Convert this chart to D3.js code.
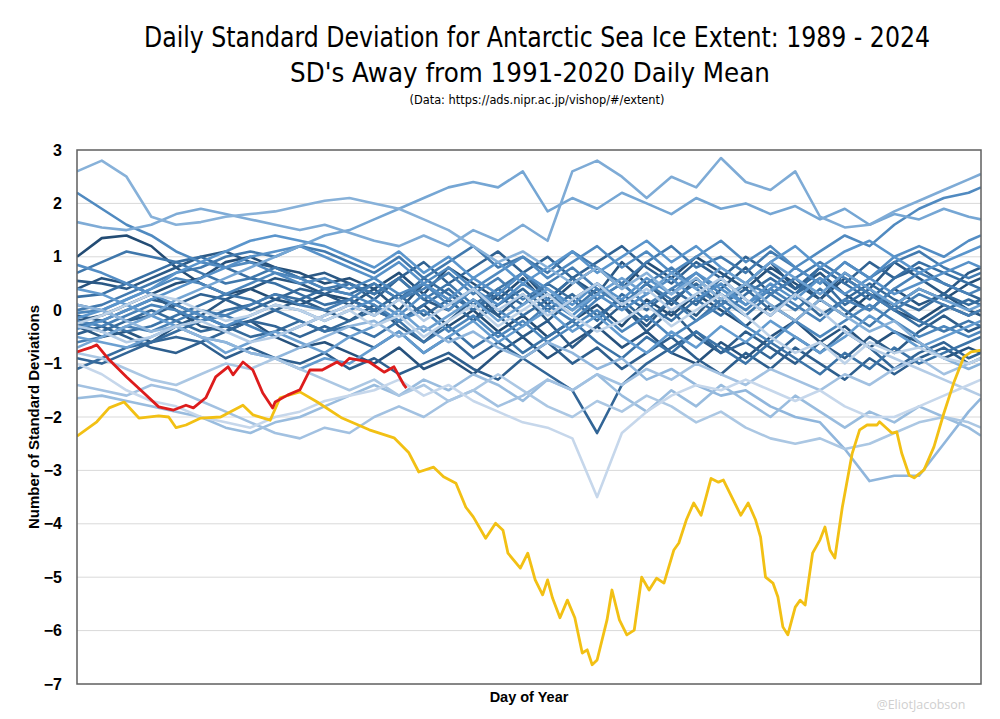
<!DOCTYPE html>
<html>
<head>
<meta charset="utf-8">
<script src="https://cdn.jsdelivr.net/npm/d3@7"></script>
<style>
  html, body { margin: 0; padding: 0; background: #ffffff; }
  svg { display: block; }
</style>
</head>
<body>
<svg id="chart" width="1000" height="719"></svg>
<script>
// ---------- DATA ----------
const titleLines = ["Daily Standard Deviation for Antarctic Sea Ice Extent: 1989 - 2024",
                    "SD's Away from 1991-2020 Daily Mean",
                    "(Data: https://ads.nipr.ac.jp/vishop/#/extent)"];
const yTicks = [-7, -6, -5, -4, -3, -2, -1, 0, 1, 2, 3];
const xLabel = "Day of Year";
const yLabel = "Number of Standard Deviations";
const credit = "@EliotJacobson";

const days = [1,11,21,31,41,51,61,71,81,91,101,111,121,131,141,151,161,171,181,191,201,211,221,231,241,251,261,271,281,291,301,311,321,331,341,351,361,366];

const v1989 = [1.0,1.35,1.4,1.2,0.8,0.5,0.3,0.4,0.2,0.1,0.3,0.2,0.0,-0.2,0.1,-0.3,0.0,-0.4,-0.1,-0.5,-0.2,0.1,-0.3,0.2,-0.1,0.3,0.0,-0.3,0.1,-0.2,0.2,-0.1,0.3,0.0,-0.2,0.1,-0.1,0.0];
const v1990 = [-0.2,-0.1,0.1,0.3,0.5,0.6,0.9,1.0,0.8,0.7,0.5,0.6,0.4,0.7,0.3,0.8,0.5,0.2,0.6,0.1,0.5,0.8,0.4,0.9,0.6,1.0,0.7,0.4,0.8,0.5,0.2,0.6,0.3,0.1,0.4,0.2,0.5,0.6];
const v1991 = [0.4,0.6,0.5,0.3,0.0,-0.3,-0.4,-0.2,-0.5,-0.7,-0.6,-0.8,-1.0,-0.7,-1.1,-0.9,-1.2,-0.8,-0.5,-0.9,-0.6,-0.3,-0.7,-0.4,-0.8,-1.0,-0.6,-0.9,-0.5,-0.2,-0.6,-0.3,-0.7,-0.4,-0.6,-0.9,-0.7,-0.8];
const v1992 = [-0.3,-0.5,-0.4,-0.6,-0.3,-0.1,0.2,0.4,0.6,0.5,0.3,0.1,0.4,0.0,0.5,0.2,-0.2,0.3,0.7,0.2,0.6,0.3,0.9,0.5,0.1,0.6,0.2,0.5,0.9,0.4,0.7,0.3,0.0,0.4,0.1,0.3,0.0,-0.1];
const v1993 = [0.55,0.5,0.4,0.6,0.8,1.0,1.1,0.9,0.8,0.6,0.7,0.5,0.3,0.6,0.2,0.0,0.4,-0.1,0.3,-0.2,0.2,0.5,0.1,-0.3,0.2,-0.1,0.4,0.8,0.3,0.6,0.2,0.7,0.4,0.9,0.6,0.3,0.7,0.8];
const v1994 = [-0.1,-0.2,0.0,0.2,0.1,-0.1,-0.3,-0.2,0.0,0.2,0.0,-0.2,0.1,-0.3,-0.6,-0.2,0.2,-0.1,-0.5,-0.2,-0.7,-0.3,0.1,-0.4,0.0,-0.5,-0.8,-0.4,-0.7,-1.0,-0.6,-0.9,-0.5,-0.8,-0.4,-0.1,-0.4,-0.3];
const v1995 = [-0.45,-0.3,-0.5,-0.7,-0.8,-0.6,-0.9,-0.7,-0.9,-1.0,-0.8,-1.1,-0.9,-1.2,-1.0,-0.8,-1.1,-1.3,-0.9,-0.6,-1.0,-0.7,-1.1,-0.8,-0.5,-0.9,-1.2,-0.8,-1.1,-0.7,-1.0,-1.3,-0.9,-1.2,-0.9,-0.7,-1.0,-0.9];
const v1996 = [0.1,0.0,-0.2,-0.1,0.1,0.3,0.2,0.0,0.2,0.4,0.3,0.5,0.2,0.6,0.9,0.5,0.8,1.1,0.7,1.0,0.6,0.9,1.2,0.8,0.5,0.9,0.6,1.0,0.7,0.4,0.8,0.5,0.9,0.6,0.8,0.5,0.3,0.2];
const v1997 = [-0.9,-1.0,-0.8,-0.6,-0.5,-0.6,-0.4,-0.2,-0.3,-0.5,-0.3,-0.5,-0.7,-0.4,-0.8,-0.5,-0.9,-0.6,-0.9,-1.2,-1.5,-2.3,-1.4,-1.0,-0.7,-0.4,-0.8,-0.6,-0.9,-0.5,-0.8,-0.4,-0.7,-1.1,-0.8,-0.6,-0.9,-0.8];
const v1998 = [-0.25,-0.4,-0.2,0.0,-0.2,-0.4,-0.3,-0.5,-0.4,-0.2,-0.4,-0.2,0.0,0.3,-0.1,0.2,-0.2,0.1,0.4,0.0,0.3,-0.1,0.2,-0.2,0.2,0.5,0.1,0.4,0.0,0.3,-0.1,0.2,0.5,0.2,0.0,0.3,0.1,0.2];
const v1999 = [-1.1,-0.9,-0.7,-0.6,-0.4,-0.2,0.0,0.1,0.3,0.2,0.4,0.3,0.5,0.2,0.6,0.3,0.0,0.4,0.1,0.5,0.2,-0.2,0.3,0.0,0.4,0.1,0.6,0.2,-0.1,0.3,0.6,0.1,0.4,0.0,-0.3,0.0,0.2,0.1];
const v2000 = [0.25,0.3,0.5,0.7,0.9,1.0,0.8,0.6,0.5,0.3,0.1,0.2,0.0,-0.2,0.1,0.4,0.0,0.3,-0.1,0.2,0.6,0.2,0.5,0.1,-0.2,0.2,-0.1,0.3,0.6,0.3,0.8,0.5,0.2,0.6,0.9,0.7,0.5,0.4];
const v2001 = [-0.3,-0.2,-0.4,-0.3,-0.1,0.1,0.3,0.2,0.0,-0.2,-0.4,-0.3,-0.5,-0.2,-0.6,-0.3,-0.7,-0.4,-0.8,-0.5,-0.2,-0.6,-0.9,-0.5,-0.8,-0.4,-0.7,-1.0,-0.6,-0.9,-1.2,-0.8,-1.1,-0.7,-1.0,-0.8,-0.6,-0.5];
const v2002 = [0.7,0.9,1.1,1.0,0.9,0.7,0.5,0.6,0.8,0.6,0.4,0.5,0.3,0.6,0.2,0.5,0.1,0.4,0.7,0.3,0.0,0.4,0.1,0.5,0.2,-0.2,0.2,-0.1,0.3,0.0,0.4,0.0,-0.3,0.1,-0.2,-0.4,-0.2,-0.3];
const v2003 = [0.0,0.1,0.3,0.5,0.7,0.8,1.0,1.1,1.0,1.2,1.1,0.9,0.7,1.0,0.6,0.9,1.2,0.8,1.0,0.7,1.1,0.8,0.5,0.9,1.2,0.8,1.0,0.7,1.1,0.8,0.5,0.9,0.6,0.9,1.1,0.8,0.6,0.7];
const v2004 = [-0.6,-0.5,-0.3,-0.4,-0.2,0.0,-0.1,0.1,0.3,0.1,0.0,0.2,0.5,0.2,0.4,0.7,0.3,0.6,0.2,0.5,0.8,0.4,0.1,0.5,0.8,0.4,0.1,0.5,0.3,0.6,0.9,0.6,0.3,0.0,0.3,0.1,-0.1,0.0];
const v2005 = [-0.2,-0.3,-0.1,0.1,0.0,-0.2,-0.1,-0.3,-0.5,-0.3,-0.1,0.1,-0.1,0.2,0.5,0.1,0.4,0.0,-0.3,0.1,-0.2,0.2,0.5,0.1,0.4,0.7,0.3,0.0,0.4,0.1,-0.2,0.2,0.0,0.4,0.7,0.5,0.3,0.4];
const v2006 = [-0.05,0.0,0.2,0.4,0.6,0.5,0.3,0.5,0.7,0.6,0.4,0.3,0.1,-0.2,0.0,-0.4,-0.1,-0.5,-0.2,-0.6,-0.3,0.0,-0.4,-0.1,-0.5,-0.2,0.1,-0.3,-0.6,-0.2,-0.5,-0.2,0.1,-0.2,-0.5,-0.3,-0.5,-0.4];
const v2007 = [2.2,1.9,1.6,1.4,1.1,0.9,0.8,0.9,0.7,0.5,0.6,0.4,0.6,0.3,0.5,0.8,0.4,0.7,1.0,0.6,0.9,1.2,0.8,1.1,0.7,1.0,1.3,0.9,1.2,0.8,1.1,1.4,1.2,1.6,1.9,2.1,2.2,2.3];
const v2008 = [0.85,0.7,0.5,0.3,0.1,-0.1,-0.3,-0.1,0.1,0.0,-0.2,0.0,0.2,-0.1,0.3,0.0,0.4,0.1,0.5,0.2,-0.1,0.3,0.0,0.3,0.6,0.2,0.5,0.1,0.4,0.8,0.5,0.9,0.6,1.0,1.2,1.0,1.3,1.4];
const v2009 = [-0.35,-0.2,0.0,0.2,0.4,0.6,0.8,1.0,1.1,1.2,1.0,0.8,0.6,0.9,0.5,0.2,0.6,0.3,0.7,0.4,0.1,0.5,0.2,0.6,0.3,0.7,0.4,0.1,0.5,0.2,0.6,0.3,0.6,0.3,0.5,0.7,0.9,0.8];
const v2010 = [-0.15,0.0,0.2,0.4,0.7,0.9,1.1,1.3,1.4,1.3,1.2,1.0,0.8,1.1,0.7,1.0,0.6,0.9,0.5,0.8,1.1,0.7,1.0,1.3,0.9,1.2,0.8,0.5,0.9,1.2,0.8,1.1,1.3,1.0,0.7,0.9,1.1,1.2];
const v2011 = [0.4,0.3,0.1,-0.1,-0.3,-0.5,-0.6,-0.8,-0.9,-1.1,-0.9,-1.0,-0.7,-0.4,-0.8,-0.5,-0.2,-0.6,-0.3,0.0,-0.4,-0.1,-0.5,-0.8,-0.4,-0.7,-0.3,-0.6,-0.2,-0.5,-0.8,-0.5,-0.1,-0.4,-0.7,-0.5,-0.3,-0.2];
const v2012 = [-0.5,-0.6,-0.7,-0.5,-0.3,-0.5,-0.8,-0.6,-0.4,-0.6,-0.8,-0.5,-0.3,0.0,-0.4,-0.1,0.2,-0.2,0.1,0.4,0.0,0.3,0.6,0.3,0.7,0.4,0.8,0.5,0.9,0.6,0.3,0.7,0.4,0.1,0.4,0.2,0.0,0.1];
const v2013 = [-0.7,-0.5,-0.3,-0.1,0.2,0.4,0.6,0.8,1.0,1.2,1.4,1.5,1.7,1.9,2.1,2.3,2.4,2.3,2.6,1.85,2.1,1.9,2.2,2.0,1.8,2.1,1.9,2.0,1.8,1.95,1.7,1.9,1.6,1.8,1.7,1.9,1.75,1.7];
const v2014 = [1.65,1.55,1.5,1.6,1.8,1.9,1.8,1.7,1.6,1.5,1.6,1.45,1.3,1.2,1.4,1.2,1.5,1.3,1.6,1.3,2.6,2.8,2.5,2.1,2.5,2.3,2.85,2.4,2.25,2.6,1.75,1.55,1.6,1.85,2.05,2.25,2.45,2.55];
const v2015 = [2.6,2.8,2.5,1.75,1.6,1.65,1.75,1.8,1.85,1.95,2.05,2.1,2.0,1.9,1.7,1.5,1.2,0.9,1.1,0.8,0.5,0.8,0.4,0.7,0.3,0.6,0.2,0.5,0.1,-0.2,0.2,-0.1,-0.4,-0.2,-0.6,-0.9,-1.1,-1.0];
const v2016 = [0.1,0.0,-0.2,-0.4,-0.3,-0.5,-0.6,-0.8,-0.9,-0.7,-0.5,-0.3,-0.2,-0.5,-0.3,-0.6,-0.4,-0.7,-0.9,-0.6,-0.8,-1.1,-0.9,-1.3,-1.1,-1.4,-1.6,-1.5,-1.8,-2.0,-2.1,-2.6,-3.2,-3.1,-3.1,-2.5,-1.9,-1.65];
const v2017 = [-1.65,-1.6,-1.7,-1.8,-1.9,-2.0,-2.2,-2.3,-2.1,-2.0,-1.8,-1.6,-1.4,-1.6,-1.3,-1.5,-1.2,-1.4,-1.7,-1.3,-1.5,-1.2,-1.6,-1.9,-1.5,-1.8,-1.4,-1.7,-2.0,-1.6,-1.9,-2.2,-1.9,-2.1,-1.8,-2.0,-2.2,-2.35];
const v2018 = [-1.4,-1.5,-1.6,-1.4,-1.5,-1.7,-1.9,-2.1,-2.3,-2.4,-2.2,-2.3,-2.0,-1.8,-2.0,-1.7,-1.5,-1.8,-1.6,-1.3,-1.5,-1.2,-1.4,-1.1,-1.3,-1.0,-1.2,-1.4,-1.1,-1.3,-1.5,-1.2,-1.4,-1.1,-0.9,-1.2,-1.0,-0.9];
const v2019 = [-0.8,-0.9,-1.1,-1.3,-1.4,-1.2,-1.0,-1.1,-0.9,-1.1,-1.3,-1.5,-1.3,-1.6,-1.4,-1.7,-1.5,-1.2,-1.5,-1.8,-2.0,-1.7,-1.9,-1.6,-1.8,-2.1,-1.9,-2.2,-2.4,-2.5,-2.4,-2.6,-2.5,-2.3,-2.1,-2.0,-2.1,-2.2];
const v2020 = [-0.3,-0.4,-0.6,-0.5,-0.3,-0.2,-0.4,-0.6,-0.5,-0.3,-0.1,0.1,-0.1,0.2,-0.2,0.1,0.4,0.0,0.3,-0.1,0.2,0.5,0.1,0.4,0.0,0.3,0.6,0.2,-0.1,0.3,0.0,-0.4,-0.7,-0.9,-1.1,-1.3,-1.5,-1.6];
const v2021 = [-0.25,-0.1,0.1,0.3,0.2,0.0,-0.2,-0.1,0.1,0.0,-0.2,0.0,-0.3,-0.1,-0.5,-0.2,0.1,-0.3,0.0,0.3,-0.1,-0.4,-0.2,0.1,-0.3,0.0,0.3,-0.1,-0.5,-0.8,-0.6,-1.0,-0.6,-0.8,-0.7,-0.9,-1.0,-0.9];
const v2022 = [-1.0,-1.2,-1.5,-1.7,-1.8,-2.0,-2.1,-2.2,-2.0,-1.9,-1.7,-1.6,-1.5,-1.3,-1.6,-1.4,-1.7,-1.9,-2.1,-2.2,-2.4,-3.5,-2.3,-1.9,-1.6,-1.4,-1.5,-1.3,-1.5,-1.7,-1.5,-1.8,-2.0,-2.0,-1.8,-1.6,-1.4,-1.3];

const blueYears = [1989,1990,1991,1992,1993,1994,1995,1996,1997,1998,1999,2000,2001,2002,2003,2004,2005,2006,2007,2008,2009,2010,2011,2012,2013,2014,2015,2016,2017,2018,2019,2020,2021,2022];
const blueValues = [v1989,v1990,v1991,v1992,v1993,v1994,v1995,v1996,v1997,v1998,v1999,v2000,v2001,v2002,v2003,v2004,v2005,v2006,v2007,v2008,v2009,v2010,v2011,v2012,v2013,v2014,v2015,v2016,v2017,v2018,v2019,v2020,v2021,v2022];

// 2023 (day, SD)
const points2023 = [[1,-2.36],[9,-2.09],[14,-1.83],[20,-1.72],[26,-2.02],[34,-1.98],[38,-2.0],[41,-2.2],[45,-2.15],[51,-2.02],[59,-2.0],[68,-1.78],[72,-1.96],[79,-2.06],[83,-1.64],[91,-1.53],[98,-1.72],[108,-2.02],[119,-2.24],[129,-2.39],[135,-2.67],[139,-3.03],[145,-2.94],[149,-3.12],[154,-3.24],[158,-3.69],[161,-3.87],[166,-4.27],[170,-3.99],[173,-4.12],[175,-4.55],[180,-4.83],[183,-4.55],[186,-5.05],[189,-5.33],[191,-5.05],[193,-5.39],[196,-5.76],[199,-5.43],[202,-5.76],[205,-6.42],[207,-6.36],[209,-6.64],[211,-6.55],[215,-5.8],[217,-5.24],[220,-5.8],[223,-6.08],[226,-5.99],[229,-5.0],[232,-5.24],[235,-5.02],[238,-5.11],[242,-4.49],[244,-4.36],[247,-3.93],[250,-3.61],[253,-3.84],[257,-3.15],[260,-3.22],[262,-3.18],[267,-3.65],[269,-3.84],[272,-3.61],[275,-3.93],[277,-4.25],[279,-5.0],[282,-5.11],[284,-5.37],[286,-5.93],[288,-6.08],[291,-5.56],[293,-5.43],[295,-5.52],[298,-4.55],[301,-4.3],[303,-4.06],[305,-4.49],[307,-4.64],[310,-3.69],[314,-2.68],[317,-2.24],[320,-2.15],[324,-2.15],[325,-2.09],[330,-2.3],[332,-2.28],[334,-2.68],[337,-3.09],[339,-3.14],[343,-2.99],[347,-2.56],[351,-1.93],[355,-1.36],[359,-0.88],[362,-0.78],[366,-0.75]];

// 2024 (day, SD)
const points2024 = [[1,-0.78],[7,-0.69],[9,-0.65],[14,-0.93],[21,-1.25],[28,-1.55],[34,-1.81],[40,-1.87],[45,-1.78],[48,-1.83],[53,-1.64],[57,-1.25],[62,-1.06],[64,-1.21],[68,-0.97],[72,-1.12],[76,-1.55],[80,-1.83],[81,-1.72],[86,-1.59],[91,-1.49],[95,-1.12],[100,-1.12],[106,-0.97],[108,-1.03],[111,-0.9],[119,-0.97],[125,-1.16],[129,-1.06],[133,-1.4],[134,-1.46]];

// ---------- CHART ----------
const svg = d3.select("#chart");
const W = 1000, H = 719;
const m = {left: 77, right: 19, top: 150, bottom: 35};
const pw = W - m.left - m.right, ph = H - m.top - m.bottom;

const x = d3.scaleLinear().domain([1, 366]).range([m.left, m.left + pw]);
const y = d3.scaleLinear().domain([-7, 3]).range([m.top + ph, m.top]);

svg.append("rect").attr("width", W).attr("height", H).attr("fill", "#ffffff");

// Titles
const titleFont = "'Liberation Sans Narrow', 'Arial Narrow', 'DejaVu Sans Condensed', sans-serif";
svg.append("text").attr("x", 537).attr("y", 47).attr("text-anchor", "middle")
  .attr("font-family", titleFont).attr("font-size", 28).attr("fill", "#000")
  .attr("textLength", 786).attr("lengthAdjust", "spacingAndGlyphs")
  .text(titleLines[0]);
svg.append("text").attr("x", 530).attr("y", 82).attr("text-anchor", "middle")
  .attr("font-family", titleFont).attr("font-size", 27).attr("fill", "#000")
  .attr("textLength", 480).attr("lengthAdjust", "spacingAndGlyphs")
  .text(titleLines[1]);
svg.append("text").attr("x", 537).attr("y", 104).attr("text-anchor", "middle")
  .attr("font-family", titleFont).attr("font-size", 12).attr("fill", "#000")
  .attr("textLength", 255).attr("lengthAdjust", "spacingAndGlyphs")
  .text(titleLines[2]);

// Gridlines
svg.append("g").selectAll("line").data(yTicks.filter(t => t > -7 && t < 3)).join("line")
  .attr("x1", m.left).attr("x2", m.left + pw)
  .attr("y1", d => y(d)).attr("y2", d => y(d))
  .attr("stroke", "#d9d9d9").attr("stroke-width", 1);

// Y axis labels
const yAxis = d3.axisLeft(y).tickValues(yTicks).tickSize(0).tickPadding(15).tickFormat(d3.format("d"));
const gy = svg.append("g").attr("transform", `translate(${m.left},0)`).call(yAxis);
gy.select(".domain").remove();
gy.selectAll("text").attr("font-family", "'Liberation Sans', Arial, sans-serif")
  .attr("font-size", 16).attr("font-weight", "bold").attr("fill", "#000");

// Clip
svg.append("clipPath").attr("id", "clip").append("rect")
  .attr("x", m.left).attr("y", m.top).attr("width", pw).attr("height", ph);

const color = d3.scaleLinear().domain([1989, 2000, 2010, 2022])
  .range(["#234c74", "#386fa3", "#5a95cc", "#c6d7eb"]).interpolate(d3.interpolateRgb);

const line = d3.line().x(d => x(d[0])).y(d => y(d[1]));

const gl = svg.append("g").attr("clip-path", "url(#clip)");
blueValues.forEach((vals, i) => {
  const pts = vals.map((v, j) => [days[j], v]).filter(p => p[0] !== undefined);
  gl.append("path").datum(pts)
    .attr("fill", "none").attr("stroke", color(blueYears[i]))
    .attr("stroke-width", 2.6).attr("stroke-linejoin", "round")
    .attr("d", line);
});
gl.append("path").datum(points2023).attr("fill", "none").attr("stroke", "#f2c014")
  .attr("stroke-width", 2.8).attr("stroke-linejoin", "round").attr("d", line);
gl.append("path").datum(points2024).attr("fill", "none").attr("stroke", "#dd1c1c")
  .attr("stroke-width", 2.8).attr("stroke-linejoin", "round").attr("d", line);

// Plot frame
svg.append("rect").attr("x", m.left).attr("y", m.top).attr("width", pw).attr("height", ph)
  .attr("fill", "none").attr("stroke", "#5f5f5f").attr("stroke-width", 1.5);

// Axis titles
svg.append("text").attr("transform", `translate(39,${(m.top + m.top + ph) / 2}) rotate(-90)`)
  .attr("text-anchor", "middle").attr("font-family", "'Liberation Sans', Arial, sans-serif")
  .attr("font-size", 15).attr("font-weight", "bold").attr("fill", "#000").text(yLabel);
svg.append("text").attr("x", 529).attr("y", 702).attr("text-anchor", "middle")
  .attr("font-family", "'Liberation Sans', Arial, sans-serif")
  .attr("font-size", 14.5).attr("font-weight", "bold").attr("fill", "#000").text(xLabel);

// Credit
svg.append("text").attr("x", 921).attr("y", 709).attr("text-anchor", "middle")
  .attr("font-family", "'Open Sans', sans-serif").attr("font-size", 12.5)
  .attr("fill", "#cfcfcf").text(credit);
</script>
</body>
</html>
